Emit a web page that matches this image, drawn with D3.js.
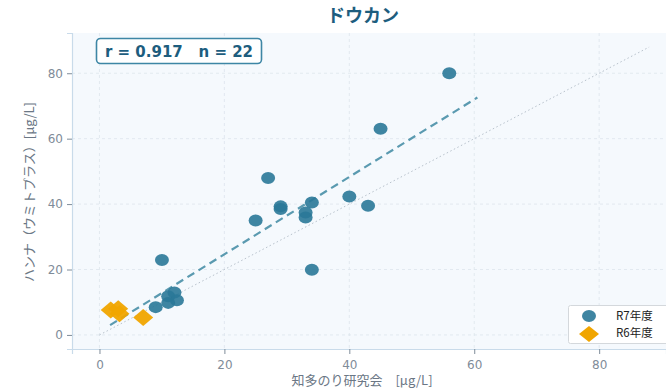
<!DOCTYPE html>
<html>
<head>
<meta charset="utf-8">
<script src="https://cdn.jsdelivr.net/npm/d3@7/dist/d3.min.js"></script>
<style>
  html, body { margin: 0; padding: 0; background: #ffffff; }
  svg { display: block; font-family: "Noto Sans CJK JP", "Noto Sans", "DejaVu Sans", sans-serif; }
</style>
</head>
<body>
<svg id="chart" width="666" height="391"></svg>
<script>
// Paired measurements: 知多のり研究会 (x) vs ハンナ（ウミトプラス） (y), μg/L
const r7X = [56, 45, 40, 43, 34, 33, 33, 29, 29, 25, 27, 34, 10, 12, 11, 12.4, 11, 9];
const r7Y = [80, 63, 42.3, 39.5, 40.5, 37.4, 35.9, 39.3, 38.5, 35, 48, 19.9, 22.9, 13, 11.8, 10.6, 9.8, 8.5];
const r6X = [1.8, 3.0, 3.2, 7.0];
const r6Y = [7.6, 8.0, 6.5, 5.3];
const seriesNames = ["R7年度", "R6年度"];
const xTicks = [0, 20, 40, 60, 80];
const yTicks = [0, 20, 40, 60, 80];
const statText = "r = 0.917   n = 22";
const fitRange = [1.7, 60.5];
const identityRange = [0, 88];

const svg = d3.select("#chart");
const W = 666, H = 391;
const m = { left: 72, right: 0, top: 33, bottom: 42 };

const x = d3.scaleLinear().domain([-4.4, 90.7]).range([m.left, W - m.right]);
const y = d3.scaleLinear().domain([-4.3, 92.3]).range([H - m.bottom, m.top]);

// plot background
svg.append("rect")
  .attr("x", m.left).attr("y", m.top)
  .attr("width", W - m.right - m.left).attr("height", H - m.bottom - m.top)
  .attr("fill", "#f5f9fd");

// grid
const grid = svg.append("g").attr("stroke", "#dde4ec").attr("stroke-width", 0.8).attr("stroke-dasharray", "3,3");
grid.selectAll(".gx").data(xTicks).join("line")
  .attr("x1", d => x(d)).attr("x2", d => x(d))
  .attr("y1", m.top).attr("y2", H - m.bottom);
grid.selectAll(".gy").data(yTicks).join("line")
  .attr("y1", d => y(d)).attr("y2", d => y(d))
  .attr("x1", m.left).attr("x2", W - m.right);

// axes
const xAxis = svg.append("g").attr("transform", `translate(0,${H - m.bottom})`)
  .call(d3.axisBottom(x).tickValues(xTicks).tickSize(5).tickPadding(6));
const yAxis = svg.append("g").attr("transform", `translate(${m.left},0)`)
  .call(d3.axisLeft(y).tickValues(yTicks).tickSize(5).tickPadding(4));
[xAxis, yAxis].forEach(a => {
  a.select(".domain").attr("stroke", "#c9dbea").attr("stroke-width", 1.2);
  a.selectAll(".tick line").attr("stroke", "#7f8c99");
  a.selectAll(".tick text").attr("fill", "#7f8c99").attr("font-size", 12)
    .attr("font-family", "'DejaVu Sans', sans-serif");
});

// identity line y = x
svg.append("line")
  .attr("x1", x(identityRange[0])).attr("y1", y(identityRange[0]))
  .attr("x2", x(identityRange[1])).attr("y2", y(identityRange[1]))
  .attr("stroke", "#b8c2cc").attr("stroke-width", 1).attr("stroke-dasharray", "1.5,2.5");

// least-squares fit over all points
const allX = r7X.concat(r6X), allY = r7Y.concat(r6Y);
const mx = d3.mean(allX), my = d3.mean(allY);
const sxy = d3.sum(allX, (v, i) => (v - mx) * (allY[i] - my));
const sxx = d3.sum(allX, v => (v - mx) * (v - mx));
const slope = sxy / sxx, icpt = my - slope * mx;
svg.append("line")
  .attr("x1", x(fitRange[0])).attr("y1", y(icpt + slope * fitRange[0]))
  .attr("x2", x(fitRange[1])).attr("y2", y(icpt + slope * fitRange[1]))
  .attr("stroke", "#4a90a8").attr("stroke-width", 2.2).attr("stroke-dasharray", "8,5")
  .attr("opacity", 0.9);

// R6 points (diamonds)
const diamond = (cx, cy, w, h) => `M${cx},${cy - h}L${cx + w},${cy}L${cx},${cy + h}L${cx - w},${cy}Z`;
svg.append("g").selectAll("path").data(r6X.map((v, i) => [v, r6Y[i]])).join("path")
  .attr("d", d => diamond(x(d[0]), y(d[1]), 10, 8.5))
  .attr("fill", "#f0a500").attr("opacity", 0.95);

// R7 points (circles)
svg.append("g").selectAll("ellipse").data(r7X.map((v, i) => [v, r7Y[i]])).join("ellipse")
  .attr("cx", d => x(d[0])).attr("cy", d => y(d[1]))
  .attr("rx", 7).attr("ry", 6)
  .attr("fill", "#2a7898").attr("opacity", 0.9);

// title
svg.append("text").attr("x", 363).attr("y", 22).attr("text-anchor", "middle")
  .attr("font-size", 18).attr("font-weight", "bold").attr("fill", "#1d5d7e")
  .text("ドウカン");

// stats box
svg.append("rect").attr("x", 96.5).attr("y", 38.5).attr("width", 165).attr("height", 25)
  .attr("rx", 4).attr("fill", "#ffffff").attr("stroke", "#3d86a5").attr("stroke-width", 1.6);
svg.append("text").attr("x", 179).attr("y", 57).attr("text-anchor", "middle")
  .attr("font-size", 15).attr("font-weight", "bold").attr("fill", "#1d5d7e")
  .attr("font-family", "'DejaVu Sans', sans-serif")
  .attr("xml:space", "preserve").style("white-space", "pre")
  .text(statText);

// legend
const lg = svg.append("g");
lg.append("rect").attr("x", 568.5).attr("y", 305.5).attr("width", 100).attr("height", 38)
  .attr("rx", 2).attr("fill", "#ffffff").attr("stroke", "#d4d8dc");
lg.append("ellipse").attr("cx", 589).attr("cy", 316).attr("rx", 7).attr("ry", 6).attr("fill", "#2a7898").attr("opacity", 0.9);
lg.append("path").attr("d", diamond(589, 334, 10, 8)).attr("fill", "#f0a500");
lg.selectAll("text").data(seriesNames).join("text")
  .attr("x", 616).attr("y", (d, i) => 320 + i * 17)
  .attr("font-size", 11.5).attr("fill", "#222").text(d => d);

// axis titles
svg.append("text").attr("x", 362).attr("y", 385).attr("text-anchor", "middle")
  .attr("font-size", 13).attr("fill", "#6b7785")
  .attr("xml:space", "preserve").style("white-space", "pre")
  .text("知多のり研究会　[μg/L]");
svg.append("text").attr("transform", "translate(34,192) rotate(-90)").attr("text-anchor", "middle")
  .attr("font-size", 13).attr("fill", "#6b7785")
  .text("ハンナ（ウミトプラス）[μg/L]");
</script>
</body>
</html>
